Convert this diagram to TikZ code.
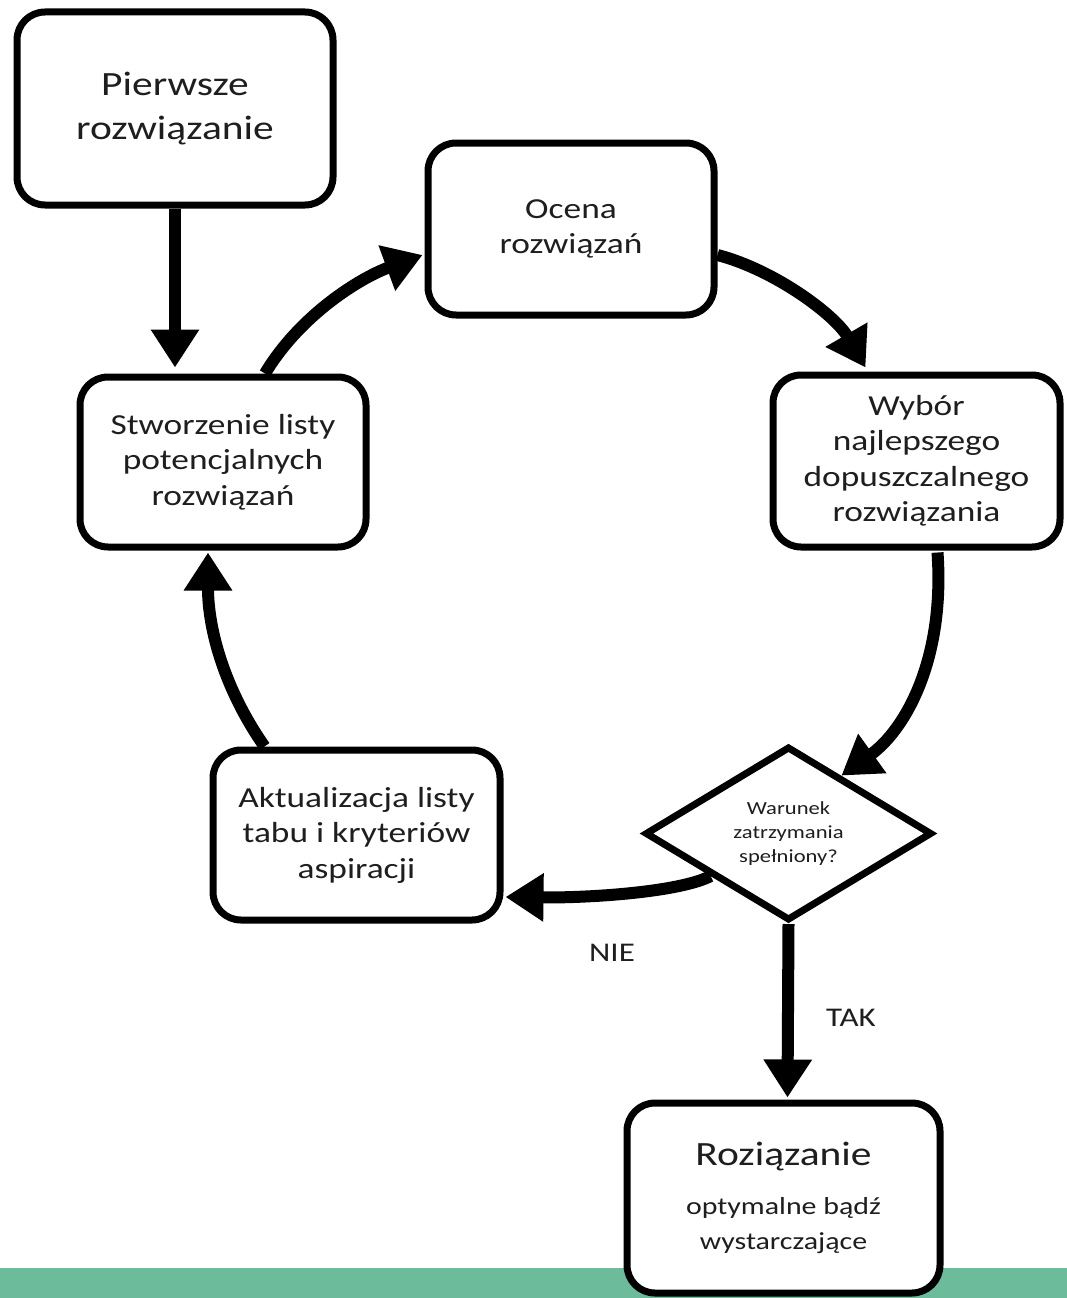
\documentclass[tikz,border=0pt]{standalone}
\usepackage{fontspec}
\setmainfont{Carlito}[FakeStretch=1.22]
\usetikzlibrary{arrows.meta,shapes.geometric,calc}
\definecolor{txt}{HTML}{1E1E1E}
\definecolor{barcol}{HTML}{6CBB9B}
\tikzset{
  box/.style={draw=black, line width=7pt, rounded corners=28pt, fill=white,
    align=center, text=txt, inner sep=0pt, font=\fontsize{29}{35.5}\selectfont},
  flow/.style={line width=12pt, -{Triangle[width=46pt,length=38pt]}},
  lbl/.style={text=txt, font=\fontsize{27}{30}\selectfont}
}
\begin{document}
\begin{tikzpicture}[x=1pt,y=-1pt]
\useasboundingbox (0,0) rectangle (1067,1298);
% green band along the bottom edge
\fill[barcol] (0,1268) rectangle (1067,1298);

% process boxes
\node[box, minimum width=316pt, minimum height=193pt, font=\fontsize{34}{44}\selectfont]
  (first) at (175,108.5) {Pierwsze\\rozwiązanie};
\node[box, minimum width=286pt, minimum height=172pt] (eval) at (571,229)
  {Ocena\\rozwiązań};
\node[box, minimum width=287pt, minimum height=172pt] (choose) at (916.5,461)
  {Wybór\\najlepszego\\dopuszczalnego\\rozwiązania};
\node[box, minimum width=286pt, minimum height=170pt] (create) at (223,462)
  {Stworzenie listy\\potencjalnych\\rozwiązań};
\node[box, minimum width=287pt, minimum height=170pt] (update) at (356.5,835)
  {Aktualizacja listy\\tabu i kryteriów\\aspiracji};
\node[diamond, draw=black, line width=7pt, fill=white, inner sep=0pt,
  minimum width=287pt, minimum height=167pt, align=center, text=txt,
  font=\fontsize{18.5}{24}\selectfont] (stop) at (788.5,833.5)
  {Warunek\\zatrzymania\\spełniony?};
\node[box, minimum width=313pt, minimum height=190pt] (final) at (783.5,1198)
  {{\fontsize{34}{40}\selectfont Roziązanie}\\[0.45em]
   {\fontsize{24.5}{32}\selectfont optymalne bądź}\\
   {\fontsize{24.5}{32}\selectfont wystarczające}};

% connectors
\draw[flow] (first.south) -- ($(create.north)+(-48,-6)$);
\draw[flow] ($(create.north)+(42,0)$) .. controls (300,315) and (360,278) .. ($(eval.west)+(-2,26)$);
\draw[flow] ($(eval.east)+(0,26)$) .. controls (775,270) and (835,315) .. ($(choose.north)+(-51,-4)$);
\draw[flow] ($(choose.south)+(21,2)$) .. controls (945,660) and (905,730) .. ($(stop.north)!0.36!(stop.east)$);
\draw[flow] ($(stop.west)!0.47!(stop.south)$) .. controls (680,892) and (590,898) .. ($(update.east)+(2,62)$);
\draw[flow] ($(update.north)+(-92,0)$) .. controls (225,690) and (208,630) .. ($(create.south)+(-15,2)$);
\draw[flow] (stop.south) -- ($(final.north)+(4,-2)$);

% branch labels
\node[lbl] (no) at (612,953) {NIE};
\node[lbl] (yes) at (851,1018) {TAK};
\end{tikzpicture}
\end{document}
